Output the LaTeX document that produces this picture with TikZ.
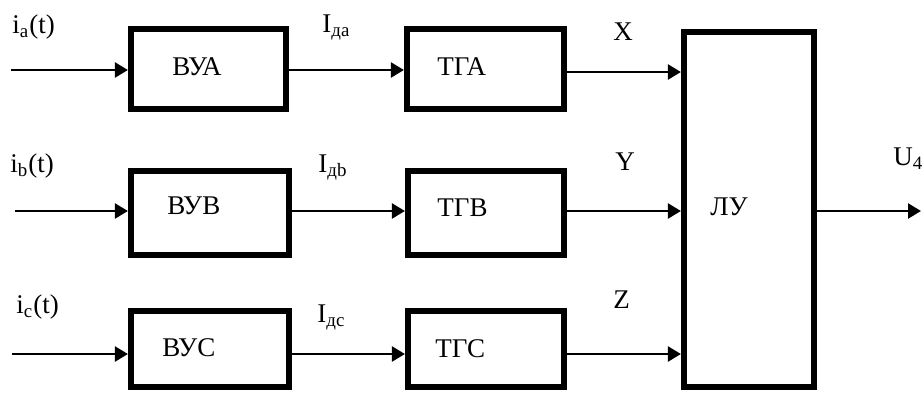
\documentclass[tikz,border=0pt]{standalone}
\usepackage{fontspec}
\setmainfont{Liberation Serif}
\usetikzlibrary{arrows.meta,fit}
\begin{document}
\begin{tikzpicture}[x=0.5pt,y=-0.5pt,
  box/.style={draw,line width=3.1pt,inner sep=0pt},
  arr/.style={line width=1.2pt,-{Triangle[length=6.5pt,width=7.5pt]}},
  lbl/.style={inner sep=0pt,anchor=base west,font=\fontsize{13.5}{16}\selectfont}]
\useasboundingbox (0,0) rectangle (922,392);
% boxes
\node[box,fit={(131,29)(286,109)}] (bya) {};
\node[box,fit={(407,29)(564,109)}] (tga) {};
\node[box,fit={(131,171)(289,255)}] (byb) {};
\node[box,fit={(408,171)(564,255)}] (tgb) {};
\node[box,fit={(131,311)(289,387)}] (byc) {};
\node[box,fit={(408,311)(564,387)}] (tgc) {};
\node[box,fit={(684,32)(814,387)}] (ly) {};
% box texts
\node[lbl] (tbya) at (172,75) {ВУА};
\node[lbl] (ttga) at (437,75) {ТГА};
\node[lbl] (tbyb) at (167,214) {ВУВ};
\node[lbl] (ttgb) at (437,216) {ТГВ};
\node[lbl] (tbyc) at (162,356) {ВУС};
\node[lbl] (ttgc) at (435,357) {ТГС};
\node[lbl] (tly) at (710,215) {ЛУ};
% signal labels
\node[lbl] (lia) at (12,33) {i\textsubscript{a}(t)};
\node[lbl] (lib) at (10,172) {i\textsubscript{b}(t)};
\node[lbl] (lic) at (16,313) {i\textsubscript{c}(t)};
\node[lbl] (lida) at (322,32) {I\textsubscript{да}};
\node[lbl] (lidb) at (318,172) {I\textsubscript{дb}};
\node[lbl] (lidc) at (317,322) {I\textsubscript{дс}};
\node[lbl] (lx) at (613,40) {X};
\node[lbl] (lyy) at (615,170) {Y};
\node[lbl] (lz) at (613,308) {Z};
\node[lbl] (lu) at (893,165) {U\textsubscript{4}};
% connectors
\coordinate (in1) at (11,70);
\coordinate (in2) at (15,211);
\coordinate (in3) at (12,354);
\coordinate (out) at (921,211);
\draw[arr] (in1) -- (in1 -| bya.west);
\draw[arr] (in1 -| bya.east) -- (in1 -| tga.west);
\draw[arr] (tga.east |- 0,72) -- (ly.west |- 0,72);
\draw[arr] (in2) -- (in2 -| byb.west);
\draw[arr] (in2 -| byb.east) -- (in2 -| tgb.west);
\draw[arr] (in2 -| tgb.east) -- (in2 -| ly.west);
\draw[arr] (in3) -- (in3 -| byc.west);
\draw[arr] (in3 -| byc.east) -- (in3 -| tgc.west);
\draw[arr] (in3 -| tgc.east) -- (in3 -| ly.west);
\draw[arr] (ly.east |- out) -- (out);
\end{tikzpicture}
\end{document}
